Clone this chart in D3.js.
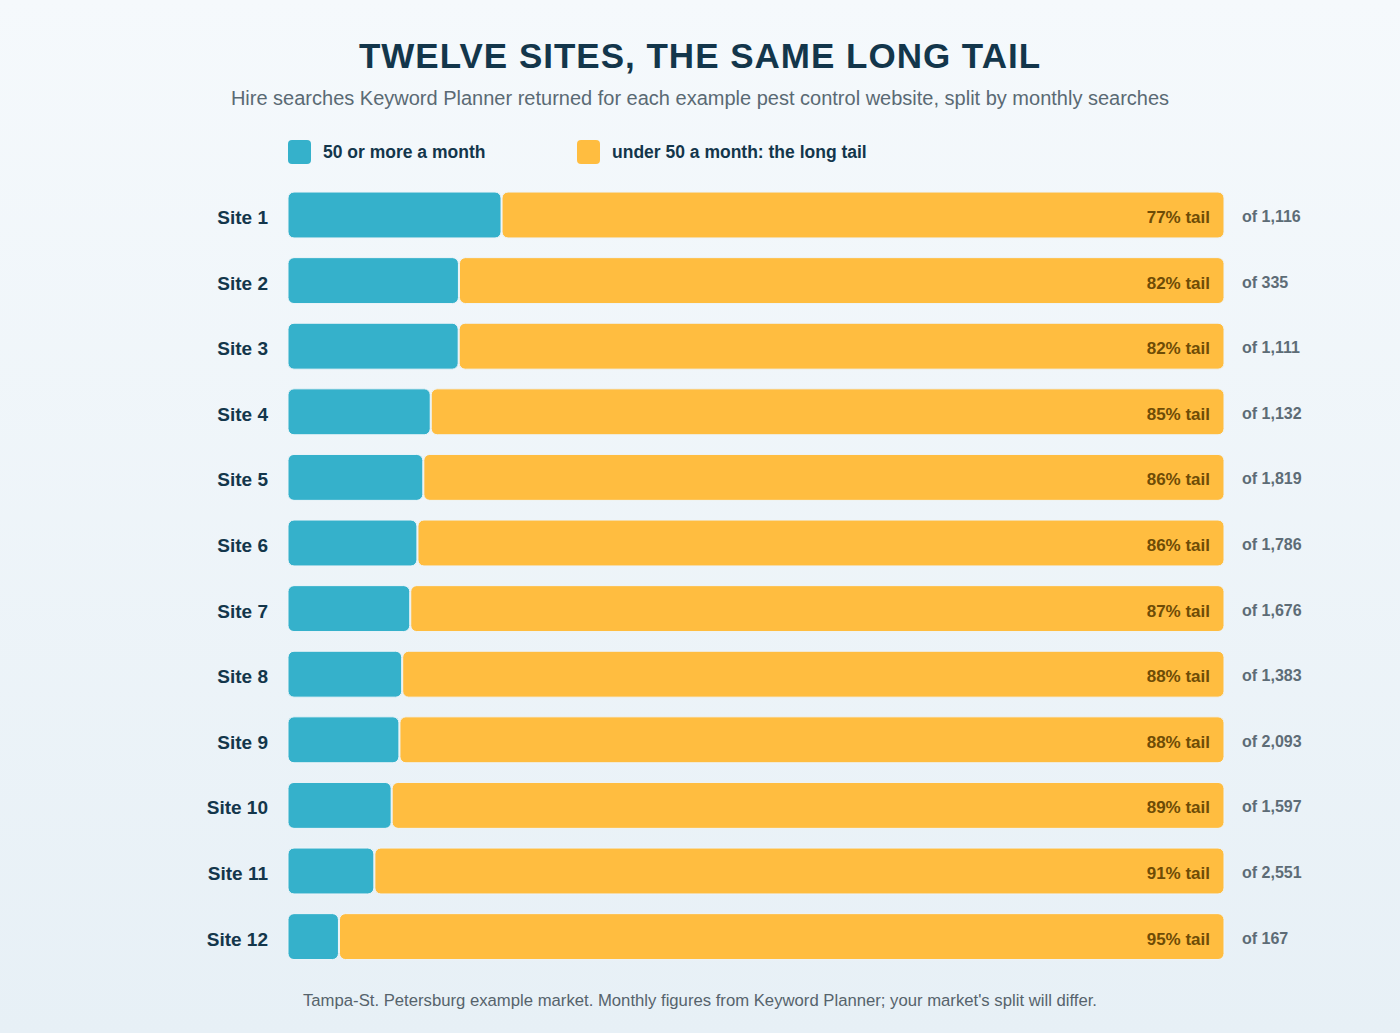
<!DOCTYPE html>
<html>
<head>
<meta charset="UTF-8">
<title>Twelve sites, the same long tail</title>
<script src="https://cdn.jsdelivr.net/npm/d3@7/dist/d3.min.js"></script>
<style>
html, body { margin: 0; padding: 0; }
body { width: 1400px; height: 1033px; overflow: hidden; }
svg { font-family: "Liberation Sans", Arial, Helvetica, sans-serif; display: block; }
</style>
</head>
<body>
<script>
// data
var sites = ["Site 1", "Site 2", "Site 3", "Site 4", "Site 5", "Site 6",
             "Site 7", "Site 8", "Site 9", "Site 10", "Site 11", "Site 12"];
var totals = [1116, 335, 1111, 1132, 1819, 1786, 1676, 1383, 2093, 1597, 2551, 167];
var headCounts = [254, 61, 202, 172, 262, 246, 218, 168, 248, 176, 234, 9];   // 50+ a month
var tailCounts = [862, 274, 909, 960, 1557, 1540, 1458, 1215, 1845, 1421, 2317, 158]; // under 50
var tailPct = [77, 82, 82, 85, 86, 86, 87, 88, 88, 89, 91, 95];
var legendLabels = ["50 or more a month", "under 50 a month: the long tail"];

var W = 1400, H = 1033;
var teal = "#35b1cb", amber = "#ffbd40", navy = "#13364b";

var svg = d3.select("body").append("svg")
    .attr("width", W)
    .attr("height", H);

var defs = svg.append("defs");
var grad = defs.append("linearGradient")
    .attr("id", "bg").attr("x1", 0).attr("y1", 0).attr("x2", 0).attr("y2", 1);
grad.append("stop").attr("offset", "0%").attr("stop-color", "#f5f9fc");
grad.append("stop").attr("offset", "100%").attr("stop-color", "#e7f0f6");
svg.append("rect").attr("width", W).attr("height", H).attr("fill", "url(#bg)");

// title + subtitle
svg.append("text")
    .attr("x", W / 2).attr("y", 68)
    .attr("text-anchor", "middle")
    .attr("font-size", 35).attr("font-weight", "bold")
    .attr("letter-spacing", 1)
    .attr("fill", navy)
    .text("TWELVE SITES, THE SAME LONG TAIL");
svg.append("text")
    .attr("x", W / 2).attr("y", 105)
    .attr("text-anchor", "middle")
    .attr("font-size", 20)
    .attr("fill", "#5a6a74")
    .text("Hire searches Keyword Planner returned for each example pest control website, split by monthly searches");

// legend
var legend = svg.append("g");
var lx = [288, 577], colors = [teal, amber];
legendLabels.forEach(function (t, i) {
    legend.append("rect")
        .attr("x", lx[i]).attr("y", 140)
        .attr("width", 23).attr("height", 24)
        .attr("rx", 4)
        .attr("fill", colors[i]);
    legend.append("text")
        .attr("x", lx[i] + 35).attr("y", 158)
        .attr("font-size", 17.5).attr("font-weight", "bold")
        .attr("fill", navy)
        .text(t);
});

// scales
var x = d3.scaleLinear().domain([0, 1]).range([288, 1224]);
var y = d3.scaleBand().domain(sites).range([182.2, 969.4])
    .paddingInner(0.3).paddingOuter(0.15);

var rows = svg.append("g").selectAll("g")
    .data(sites)
    .join("g")
    .attr("transform", function (d) { return "translate(0," + y(d) + ")"; });

var bh = y.bandwidth();

// head segment
rows.append("rect")
    .attr("x", x(0))
    .attr("width", function (d, i) { return x(headCounts[i] / totals[i]) - x(0); })
    .attr("height", bh)
    .attr("rx", 6)
    .attr("fill", teal)
    .attr("stroke", "#eef5f9").attr("stroke-width", 1);

// tail segment
rows.append("rect")
    .attr("x", function (d, i) { return x(headCounts[i] / totals[i]) + 1; })
    .attr("width", function (d, i) { return x(1) - x(headCounts[i] / totals[i]) - 1; })
    .attr("height", bh)
    .attr("rx", 6)
    .attr("fill", amber)
    .attr("stroke", "#eef5f9").attr("stroke-width", 1);

// site names
rows.append("text")
    .attr("x", 268).attr("y", bh / 2 + 9)
    .attr("text-anchor", "end")
    .attr("font-size", 19).attr("font-weight", "bold")
    .attr("fill", navy)
    .text(function (d) { return d; });

// percent inside bar
rows.append("text")
    .attr("x", x(1) - 14).attr("y", bh / 2 + 8)
    .attr("text-anchor", "end")
    .attr("font-size", 17).attr("font-weight", "bold")
    .attr("fill", "#6e4c06")
    .text(function (d, i) { return tailPct[i] + "% tail"; });

// totals
var fmt = d3.format(",");
rows.append("text")
    .attr("x", x(1) + 18).attr("y", bh / 2 + 7)
    .attr("font-size", 16).attr("font-weight", "bold")
    .attr("fill", "#5d6c76")
    .text(function (d, i) { return "of " + fmt(totals[i]); });

// footnote
svg.append("text")
    .attr("x", W / 2).attr("y", 1006)
    .attr("text-anchor", "middle")
    .attr("font-size", 16.7)
    .attr("fill", "#56636c")
    .text("Tampa-St. Petersburg example market. Monthly figures from Keyword Planner; your market's split will differ.");
</script>
</body>
</html>
